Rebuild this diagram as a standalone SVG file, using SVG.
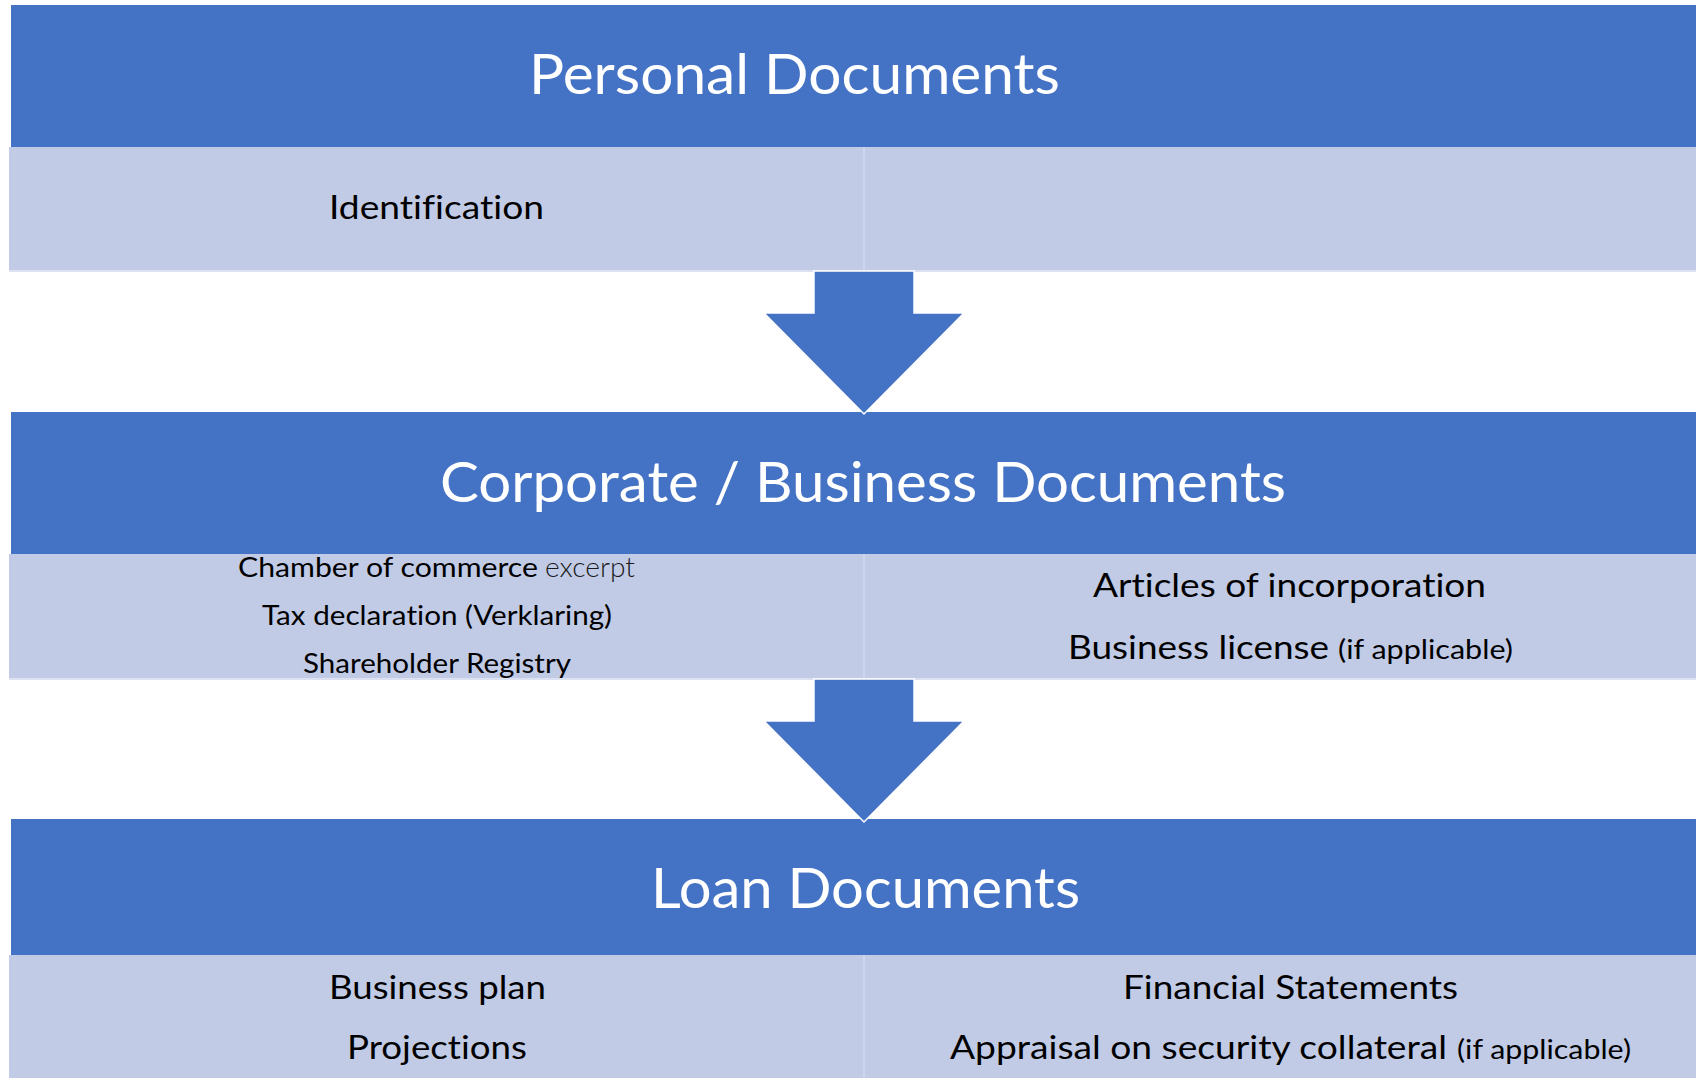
<svg xmlns="http://www.w3.org/2000/svg" width="1696" height="1078" viewBox="0 0 1696 1078">
  <style>
    .hdr { fill: #4472C4; }
    .band { fill: #C1CBE6; }
    .edge { fill: #DCE2F1; }
    .split { stroke: #CCD5EC; stroke-width: 2; }
    text { font-family: Lato, "Open Sans", sans-serif; font-variant-ligatures: none; }
    .title { font-size: 57px; fill: #FFFFFF; }
    .item { font-size: 33px; fill: #000000; }
    .small { font-size: 27px; fill: #000000; }
    .note { font-size: 26px; fill: #000000; }
    .light { font-size: 27px; font-weight: 300; fill: #1A1A1A; }
    .arrow { fill: #4472C4; stroke: #FFFFFF; stroke-width: 1.5; stroke-linejoin: miter; }
  </style>

  <rect x="0" y="0" width="1696" height="1078" fill="#FFFFFF"/>

  <!-- Stage 1: personal documents -->
  <g id="personal-header">
    <rect class="hdr" x="11" y="5" width="1685" height="142"/>
    <text class="title" x="529" y="94" textLength="531" lengthAdjust="spacingAndGlyphs">Personal Documents</text>
  </g>
  <g id="personal-items">
    <rect class="band" x="9" y="147" width="1687" height="123"/>
    <rect class="edge" x="9" y="270" width="1687" height="2"/>
    <line class="split" x1="864" y1="147" x2="864" y2="270"/>
    <text class="item" x="329" y="219" textLength="215" lengthAdjust="spacingAndGlyphs">Identification</text>
  </g>

  <!-- Stage 2: corporate / business documents -->
  <g id="corporate-header">
    <rect class="hdr" x="11" y="412" width="1685" height="142"/>
    <text class="title" x="440" y="502" textLength="846" lengthAdjust="spacingAndGlyphs">Corporate / Business Documents</text>
  </g>
  <g id="corporate-items">
    <rect class="band" x="9" y="554" width="1687" height="124"/>
    <rect class="edge" x="9" y="678" width="1687" height="2"/>
    <line class="split" x1="864" y1="554" x2="864" y2="678"/>
    <text class="small" x="238" y="577" textLength="300" lengthAdjust="spacingAndGlyphs">Chamber of commerce</text>
    <text class="light" x="545" y="577" textLength="90" lengthAdjust="spacingAndGlyphs">excerpt</text>
    <text class="small" x="262" y="625" textLength="350" lengthAdjust="spacingAndGlyphs">Tax declaration (Verklaring)</text>
    <text class="small" x="303" y="673" textLength="268" lengthAdjust="spacingAndGlyphs">Shareholder Registry</text>
    <text class="item" x="1093" y="597" textLength="393" lengthAdjust="spacingAndGlyphs">Articles of incorporation</text>
    <text class="item" x="1068" y="659" textLength="261" lengthAdjust="spacingAndGlyphs">Business license</text>
    <text class="note" x="1338" y="659" textLength="175" lengthAdjust="spacingAndGlyphs">(if applicable)</text>
  </g>

  <!-- Stage 3: loan documents -->
  <g id="loan-header">
    <rect class="hdr" x="11" y="819" width="1685" height="136"/>
    <text class="title" x="651" y="908" textLength="429" lengthAdjust="spacingAndGlyphs">Loan Documents</text>
  </g>
  <g id="loan-items">
    <rect class="band" x="9" y="955" width="1687" height="123"/>
    <line class="split" x1="864" y1="955" x2="864" y2="1078"/>
    <text class="item" x="329" y="999" textLength="217" lengthAdjust="spacingAndGlyphs">Business plan</text>
    <text class="item" x="347" y="1059" textLength="180" lengthAdjust="spacingAndGlyphs">Projections</text>
    <text class="item" x="1123" y="999" textLength="335" lengthAdjust="spacingAndGlyphs">Financial Statements</text>
    <text class="item" x="950" y="1059" textLength="497" lengthAdjust="spacingAndGlyphs">Appraisal on security collateral</text>
    <text class="note" x="1457" y="1059" textLength="174" lengthAdjust="spacingAndGlyphs">(if applicable)</text>
  </g>

  <!-- Block arrows leading from one stage to the next -->
  <g id="connectors">
    <polygon class="arrow" points="814,271 914,271 914,313 964,313 864,414 764,313 814,313"/>
    <polygon class="arrow" points="814,679 914,679 914,721 964,721 864,822 764,721 814,721"/>
  </g>
</svg>
